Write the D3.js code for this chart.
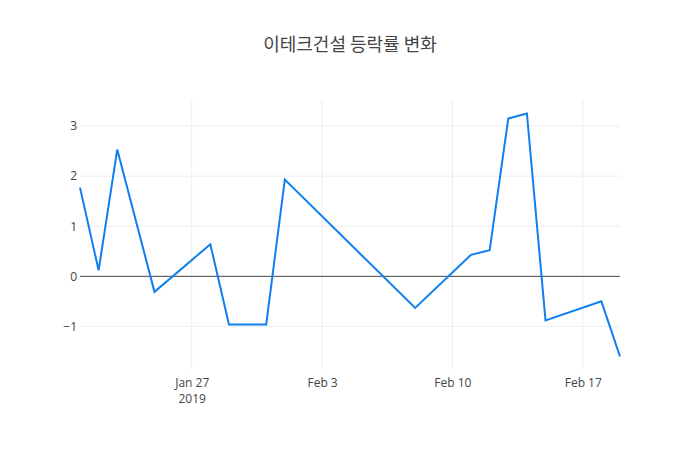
<!DOCTYPE html>
<html>
<head>
<meta charset="utf-8">
<script src="https://cdn.jsdelivr.net/npm/d3@7"></script>
<style>
  body { margin: 0; background: #fff; }
  svg { display: block; }
</style>
</head>
<body>
<svg id="chart"></svg>
<script>
// data
const dates = ['2019-01-21', '2019-01-22', '2019-01-23', '2019-01-25', '2019-01-28',
               '2019-01-29', '2019-01-31', '2019-02-01', '2019-02-08', '2019-02-11',
               '2019-02-12', '2019-02-13', '2019-02-14', '2019-02-15', '2019-02-18',
               '2019-02-19'];
const rates = [1.77, 0.12, 2.53, -0.31, 0.64, -0.96, -0.96, 1.93, -0.63, 0.43,
               0.52, 3.15, 3.25, -0.88, -0.50, -1.60];
const xTicks = ['2019-01-27', '2019-02-03', '2019-02-10', '2019-02-17'];
const yTicks = [-1, 0, 1, 2, 3];
const title = '이테크건설 등락률 변화';

const chart = {
    width: 700,
    height: 450,
    padding: {left: 80, right: 80, top: 100, bottom: 80},
    font: '"Open Sans", "Noto Sans", sans-serif'
};

const parse = d3.timeParse('%Y-%m-%d');
const data = dates.map((d, i) => ({date: parse(d), value: rates[i]}));

const svg = d3.select('#chart')
    .attr('width', chart.width)
    .attr('height', chart.height);

let xScale = d3.scaleTime()
    .domain(d3.extent(data, d => d.date))
    .range([chart.padding.left, chart.width - chart.padding.right]);

// plotly-ish padding of 5% of the axis length
let ext = d3.extent(data, d => d.value);
let pad = (ext[1] - ext[0]) * 0.05 / 0.9;
let yScale = d3.scaleLinear()
    .domain([ext[0] - pad, ext[1] + pad])
    .range([chart.height - chart.padding.bottom, chart.padding.top]);

// title
svg.append('text')
    .attr('x', chart.width / 2)
    .attr('y', 51)
    .attr('text-anchor', 'middle')
    .attr('font-family', '"Noto Sans CJK KR", sans-serif')
    .attr('font-size', 18)
    .attr('fill', '#444')
    .text(title);

// grid
let grid = svg.append('g');
grid.selectAll('line.vx')
    .data(xTicks.map(parse))
    .join('line')
    .attr('x1', d => xScale(d)).attr('x2', d => xScale(d))
    .attr('y1', chart.padding.top).attr('y2', chart.height - chart.padding.bottom)
    .attr('stroke', '#eee').attr('stroke-width', 1);
grid.selectAll('line.hy')
    .data(yTicks.filter(d => d !== 0))
    .join('line')
    .attr('x1', chart.padding.left).attr('x2', chart.width - chart.padding.right)
    .attr('y1', d => yScale(d)).attr('y2', d => yScale(d))
    .attr('stroke', '#eee').attr('stroke-width', 1);

// zero line
svg.append('line')
    .attr('x1', chart.padding.left).attr('x2', chart.width - chart.padding.right)
    .attr('y1', yScale(0)).attr('y2', yScale(0))
    .attr('stroke', '#444').attr('stroke-width', 1);

// y axis labels
let axisY = d3.axisLeft(yScale)
    .tickValues(yTicks)
    .tickSize(0)
    .tickPadding(3)
    .tickFormat(d => d < 0 ? '\u2212' + Math.abs(d) : d);
svg.append('g')
    .attr('transform', `translate(${chart.padding.left}, 0)`)
    .call(axisY)
    .call(g => g.select('.domain').remove())
    .attr('font-family', chart.font)
    .attr('font-size', 12)
    .selectAll('text').attr('fill', '#444');

// x axis labels
let fmt = d3.timeFormat('%b %-d');
let axisX = d3.axisBottom(xScale)
    .tickValues(xTicks.map(parse))
    .tickSize(0)
    .tickPadding(8)
    .tickFormat(fmt);
let gx = svg.append('g')
    .attr('transform', `translate(0, ${chart.height - chart.padding.bottom})`)
    .call(axisX)
    .call(g => g.select('.domain').remove())
    .attr('font-family', chart.font)
    .attr('font-size', 12);
gx.selectAll('text').attr('fill', '#444');
// year under first tick
gx.selectAll('.tick').filter((d, i) => i === 0)
    .append('text')
    .attr('fill', '#444')
    .attr('y', 8)
    .attr('dy', '2.1em')
    .text(d => d3.timeFormat('%Y')(d));

// line
let line = d3.line()
    .x(d => xScale(d.date))
    .y(d => yScale(d.value));
svg.append('path')
    .datum(data)
    .attr('d', line)
    .attr('fill', 'none')
    .attr('stroke', '#0f7ff0')
    .attr('stroke-width', 2)
    .attr('stroke-linejoin', 'miter');
</script>
</body>
</html>
